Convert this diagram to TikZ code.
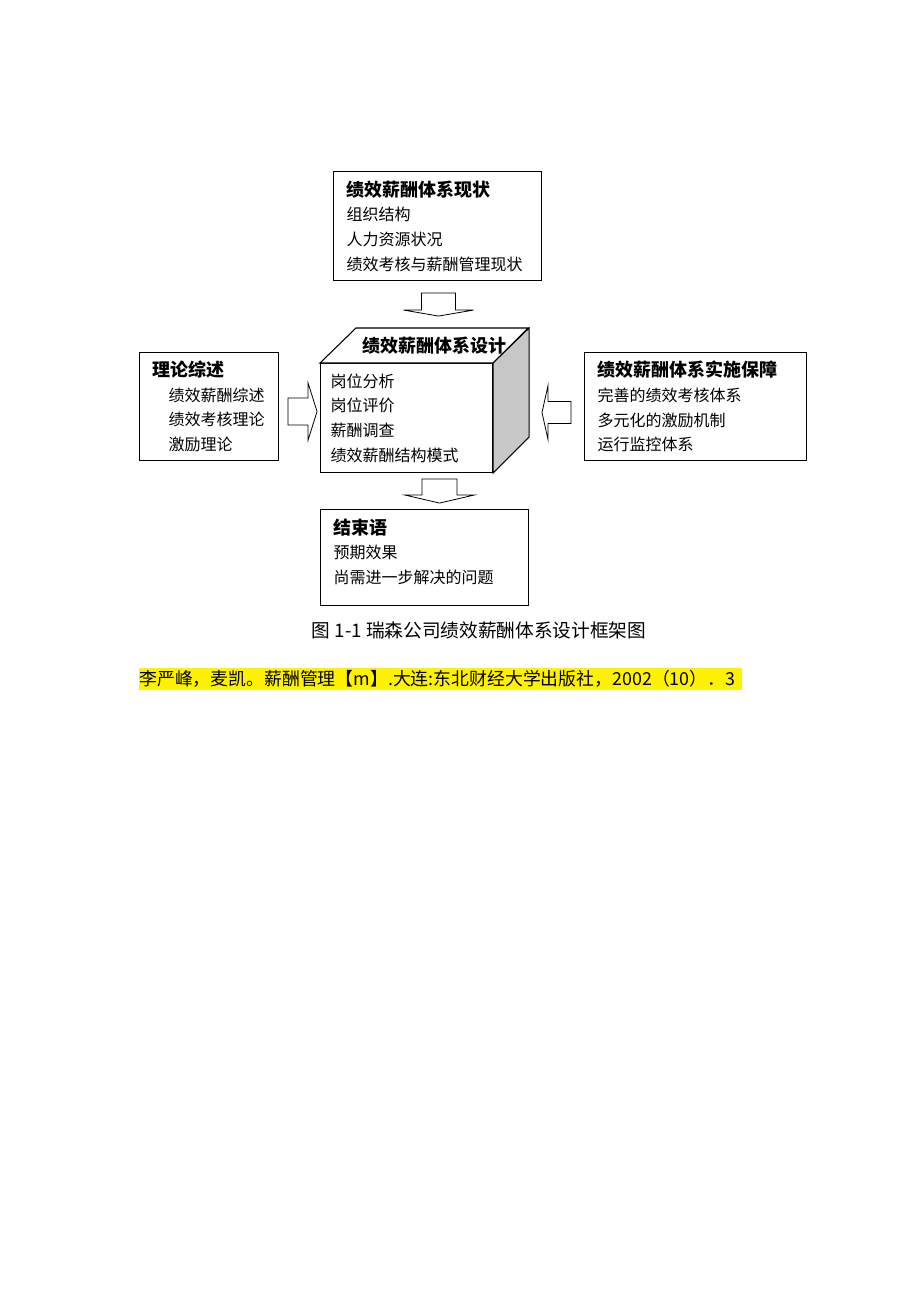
\documentclass[tikz,border=0pt]{standalone}
\usepackage{fontspec}
\setmainfont{Noto Sans CJK SC}
\usetikzlibrary{calc}
\tikzstyle{framebox}=[draw,line width=0.8pt,anchor=north west,align=left,inner xsep=9.75pt,font=\fontsize{12}{18.5}\selectfont]
\tikzstyle{blockarrow}=[draw,fill=white,line width=0.6pt,line join=miter]
\newcommand{\heading}[1]{{\fontsize{13.5}{18}\selectfont\bfseries #1}}
\newcommand{\drawblockarrow}[6]{
% #1 tail, #2 angle, #3 shaft half width, #4 shaft length, #5 head half width, #6 head depth
\draw[blockarrow,shift={#1},rotate=#2] (0,-#3) -- (#4,-#3) -- (#4,-#5) -- (#4+#6,0) -- (#4,#5) -- (#4,#3) -- (0,#3) -- cycle;
}

\begin{document}
\begin{tikzpicture}[x=0.75pt,y=-0.75pt]
  \fill[white] (0,0) rectangle (920,1302);
  \node[framebox,text width=136.5pt,minimum height=81.75pt] (status) at (333,171)
    {\heading{绩效薪酬体系现状}\\组织结构\\人力资源状况\\绩效考核与薪酬管理现状};
  \node[framebox,text width=84.75pt,minimum height=81pt] (theory) at (139,352)
    {\heading{理论综述}\\\hspace*{12pt}绩效薪酬综述\\\hspace*{12pt}绩效考核理论\\\hspace*{12pt}激励理论};
  \node[framebox,text width=147pt,minimum height=81pt] (support) at (584,352)
    {\heading{绩效薪酬体系实施保障}\\完善的绩效考核体系\\多元化的激励机制\\运行监控体系};
  \node[framebox,inner xsep=7.5pt,text width=114pt,minimum height=81.75pt] (design) at (320,363)
    {岗位分析\\岗位评价\\薪酬调查\\绩效薪酬结构模式};
  \node[framebox,text width=136.5pt,minimum height=72pt] (ending) at (320,509)
    {\heading{结束语}\\预期效果\\尚需进一步解决的问题\\[-9pt]\mbox{}};
  % cube faces
  \draw[line width=0.8pt,fill=white] (design.north west) -- ++(36,-35) -- ++(172,0) -- (design.north east) -- cycle;
  \draw[line width=0.8pt,fill=black!22] (design.north east) -- ++(36,-35) -- ++(0,109) -- (design.south east) -- cycle;
  \node (designtitle) at (434,346) {\heading{绩效薪酬体系设计}};
  % block arrows
  \drawblockarrow{($(status.south)+(1,12)$)}{-90}{17}{17}{35}{6}
  \drawblockarrow{($(design.south)+(33,6)$)}{-90}{17.5}{16}{34.5}{8}
  \drawblockarrow{($(theory.east)+(9,5)$)}{0}{13.5}{20}{28.5}{9}
  \drawblockarrow{($(support.west)+(-13,6)$)}{180}{11}{23}{27}{6}
  \node[font=\fontsize{14}{16}\selectfont] (caption) at (479,630) {图 1-1 瑞森公司绩效薪酬体系设计框架图};
  \node[anchor=west,fill=yellow,inner sep=0pt,minimum height=16.5pt,text width=452.25pt,align=left,font=\fontsize{13.4}{16}\selectfont] (citation) at (139,679)
    {李严峰，麦凯。薪酬管理【m】.大连:东北财经大学出版社，2002（10）．3};
\end{tikzpicture}
\end{document}
